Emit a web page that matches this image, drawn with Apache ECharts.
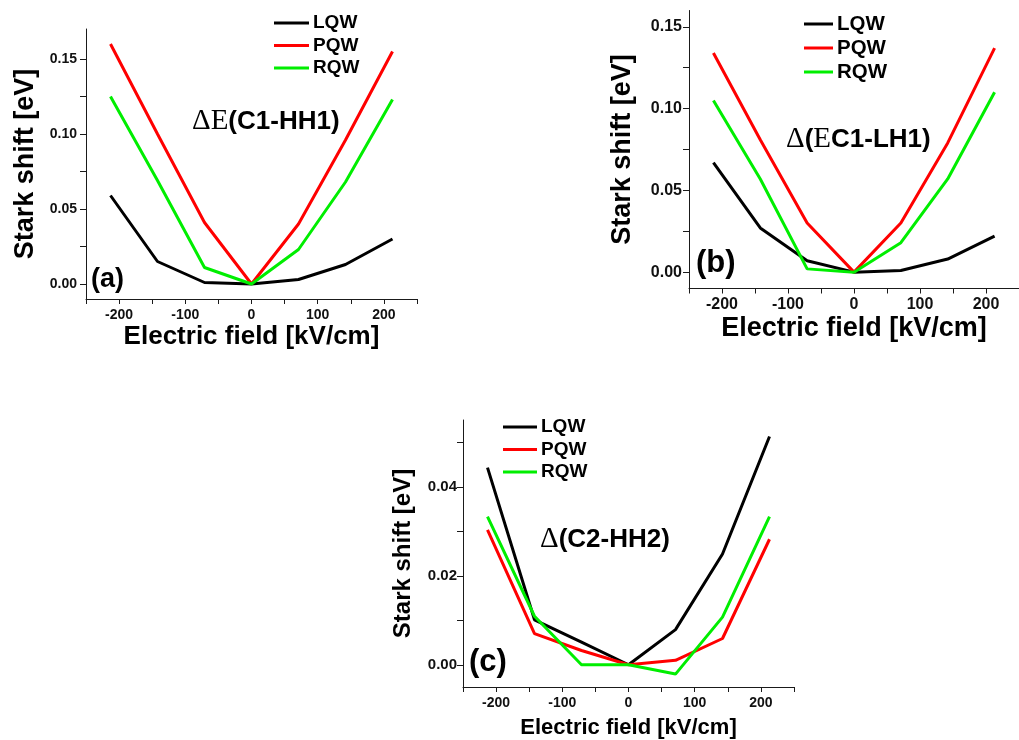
<!DOCTYPE html>
<html>
<head>
<meta charset="utf-8">
<script src="https://cdn.jsdelivr.net/npm/echarts@6/dist/echarts.min.js"></script>
<style>
html,body{margin:0;padding:0;background:#fff;}
#chart{width:1019px;height:740px;}
</style>
</head>
<body>
<div id="chart"></div>
<script>
// ---- data ----
const fieldKVcm = [-213, -142, -71, 0, 71, 142, 213];
const seriesNames = ['LQW', 'PQW', 'RQW'];

// (a) ΔE(C1-HH1)
const a_LQW = [0.059, 0.015, 0.001, 0, 0.003, 0.013, 0.030];
const a_PQW = [0.160, 0.100, 0.041, 0, 0.040, 0.096, 0.155];
const a_RQW = [0.125, 0.069, 0.011, 0, 0.023, 0.068, 0.123];
// (b) Δ(E C1-LH1)
const b_LQW = [0.067, 0.027, 0.007, 0, 0.001, 0.008, 0.022];
const b_PQW = [0.134, 0.081, 0.030, 0, 0.030, 0.079, 0.137];
const b_RQW = [0.105, 0.057, 0.002, 0, 0.018, 0.057, 0.110];
// (c) Δ(C2-HH2)
const c_LQW = [0.0443, 0.0101, 0.0051, 0, 0.0079, 0.0249, 0.0513];
const c_PQW = [0.0303, 0.0070, 0.0032, 0, 0.0010, 0.0059, 0.0282];
const c_RQW = [0.0333, 0.0109, 0.0000, 0, -0.0021, 0.0107, 0.0333];

const xTickValues = [-250, -200, -150, -100, -50, 0, 50, 100, 150, 200, 250];
const xLabelValues = [-200, -100, 0, 100, 200];
const yTicksAB = [0, 0.025, 0.05, 0.075, 0.1, 0.125, 0.15];
const yLabelsAB = [0, 0.05, 0.10, 0.15];
const yTicksC = [0, 0.01, 0.02, 0.03, 0.04, 0.05];
const yLabelsC = [0, 0.02, 0.04];

const xName = 'Electric field [kV/cm]';
const yName = 'Stark shift [eV]';

// ---- styling ----
const SANS = '"Liberation Sans", Arial, Helvetica, sans-serif';
const SERIF = '"Liberation Serif", "Times New Roman", serif';
const colors = {LQW: '#000000', PQW: '#ff0000', RQW: '#00ee00'};
const axisColor = '#1a1a1a';

function pairs(ys) { return fieldKVcm.map((x, i) => [x, ys[i]]); }

function xAxisCfg(gridIndex, nameSize, nameGap, labelSize, labelMargin) {
  return {
    type: 'value', gridIndex, min: -250, max: 250,
    name: xName, nameLocation: 'middle', nameGap,
    nameTextStyle: {fontFamily: SANS, fontWeight: 'bold', fontSize: nameSize, color: '#000'},
    axisLine: {show: true, onZero: false, lineStyle: {color: axisColor, width: 1}},
    axisTick: {show: true, inside: false, length: 5, customValues: xTickValues, lineStyle: {color: axisColor}},
    axisLabel: {show: true, customValues: xLabelValues, margin: labelMargin, fontFamily: SANS, fontWeight: 'bold', fontSize: labelSize, color: '#111'},
    splitLine: {show: false}
  };
}
function yAxisCfg(gridIndex, min, max, ticks, labels, nameSize, nameGap, labelSize, labelMargin) {
  return {
    type: 'value', gridIndex, min, max,
    name: yName, nameLocation: 'middle', nameGap, nameRotate: 90,
    nameTextStyle: {fontFamily: SANS, fontWeight: 'bold', fontSize: nameSize, color: '#000'},
    axisLine: {show: true, onZero: false, lineStyle: {color: axisColor, width: 1}},
    axisTick: {show: true, inside: false, length: 6, customValues: ticks, lineStyle: {color: axisColor}},
    axisLabel: {show: true, customValues: labels, margin: labelMargin, fontFamily: SANS, fontWeight: 'bold', fontSize: labelSize, color: '#111',
      formatter: v => Number(v).toFixed(2)},
    splitLine: {show: false}
  };
}
function lineSeries(name, data, idx) {
  return {
    type: 'line', name, data: pairs(data), xAxisIndex: idx, yAxisIndex: idx,
    showSymbol: false, symbol: 'none', animation: false,
    lineStyle: {color: colors[name], width: 3}, itemStyle: {color: colors[name]}
  };
}
function legendCfg(left, top, iconW, fontSize, lh, gap) {
  return {
    left, top, padding: 0, orient: 'vertical', icon: 'rect', itemWidth: iconW, itemHeight: 3, itemGap: gap,
    data: seriesNames, selectedMode: false,
    textStyle: {fontFamily: SANS, fontWeight: 'bold', fontSize, lineHeight: lh, color: '#000', padding: [0, 0, 0, -1]}
  };
}
function annot(x, y, parts, size) {
  const rich = {
    s: {fontFamily: SERIF, fontWeight: 'normal', fontSize: size + 3, fill: '#000'},
    b: {fontFamily: SANS, fontWeight: 'bold', fontSize: size, fill: '#000'}
  };
  return {
    type: 'text', left: x, top: y, z: 50,
    style: {text: parts.map(p => '{' + p[1] + '|' + p[0] + '}').join(''), rich, fill: '#000'}
  };
}
function panelLabel(x, y, txt, size) {
  return {type: 'text', left: x, top: y, z: 50,
    style: {text: txt, font: 'bold ' + size + 'px ' + SANS, fill: '#000'}};
}

const option = {
  backgroundColor: '#ffffff',
  animation: false,
  grid: [
    {left: 86, top: 29, width: 331, height: 270},
    {left: 689, top: 10.5, width: 341, height: 278},
    {left: 463, top: 420, width: 331, height: 267}
  ],
  xAxis: [
    xAxisCfg(0, 26, 25, 14, 9),
    xAxisCfg(1, 27, 27, 16, 8),
    xAxisCfg(2, 22, 30, 14, 9)
  ],
  yAxis: [
    yAxisCfg(0, -0.01, 0.17, yTicksAB, yLabelsAB, 27, 47, 14, 9),
    yAxisCfg(1, -0.01, 0.16, yTicksAB, yLabelsAB, 27, 53, 16, 7),
    yAxisCfg(2, -0.005, 0.055, yTicksC, yLabelsC, 24, 48, 15, 6)
  ],
  legend: [
    legendCfg(274, 13, 35, 19, 20, 2.5),
    legendCfg(804, 13.5, 29, 20.5, 21, 3),
    legendCfg(503, 417, 34, 19, 20, 2.5)
  ],
  series: [
    lineSeries('LQW', a_LQW, 0), lineSeries('PQW', a_PQW, 0), lineSeries('RQW', a_RQW, 0),
    lineSeries('LQW', b_LQW, 1), lineSeries('PQW', b_PQW, 1), lineSeries('RQW', b_RQW, 1),
    lineSeries('LQW', c_LQW, 2), lineSeries('PQW', c_PQW, 2), lineSeries('RQW', c_RQW, 2)
  ],
  graphic: [
    annot(192, 107, [['Δ', 's'], ['E', 's'], ['(C1-HH1)', 'b']], 26),
    annot(786, 125, [['Δ', 's'], ['(', 'b'], ['E', 's'], ['C1-LH1)', 'b']], 26),
    annot(540, 525, [['Δ', 's'], ['(C2-HH2)', 'b']], 26),
    panelLabel(91, 266, '(a)', 27),
    panelLabel(696, 248, '(b)', 31),
    panelLabel(469, 647, '(c)', 31)
  ]
};

const chart = echarts.init(document.getElementById('chart'), null, {renderer: 'canvas'});
chart.setOption(option);
</script>
</body>
</html>
